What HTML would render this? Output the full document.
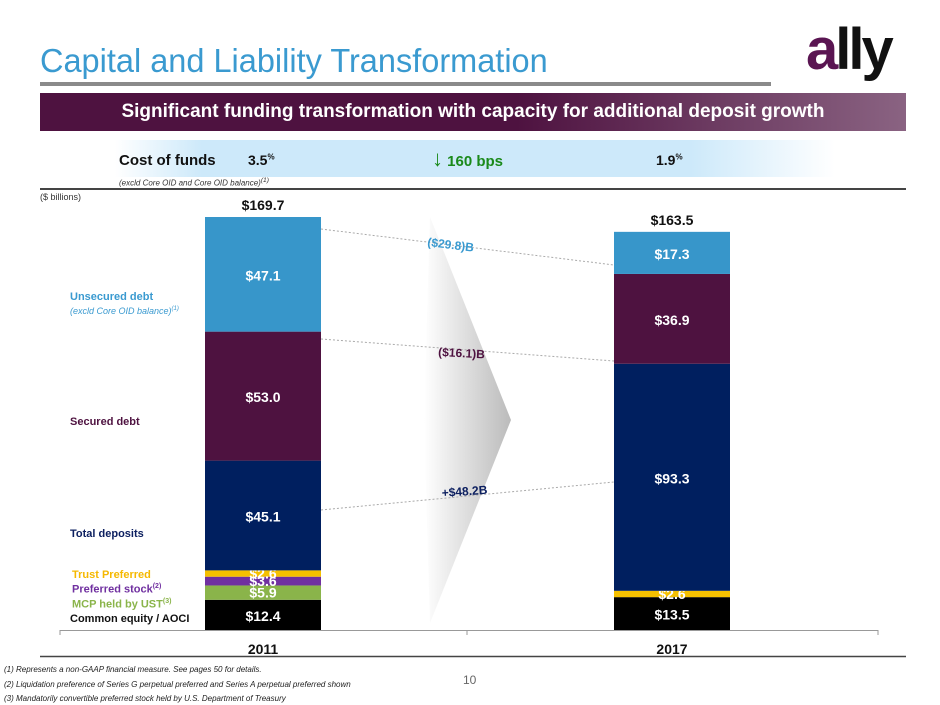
<!DOCTYPE html>
<html><head><meta charset="utf-8"><style>
body{margin:0;width:940px;height:705px;background:#fff;font-family:"Liberation Sans",sans-serif;overflow:hidden;position:relative}
.a{position:absolute;white-space:nowrap}
</style></head><body>
<div class="a" style="left:40px;top:42px;font-size:33px;color:#3a9ad0;transform:scaleX(0.985);transform-origin:left">Capital and Liability Transformation</div>
<div class="a" style="left:40px;top:82px;width:731px;height:4px;background:#8a8a8a"></div>
<div class="a" style="left:806px;top:16px;font-size:58px;font-weight:bold;letter-spacing:-3px;color:#111"><span style="color:#5a1552">a</span>lly</div>
<div class="a" style="left:40px;top:93px;width:866px;height:38px;background:linear-gradient(90deg,#4e1240 0%,#4e1240 55%,#8a6382 100%);color:#fff;font-weight:bold;font-size:19px;line-height:38px;text-align:center">Significant funding transformation with capacity for additional deposit growth</div>
<div class="a" style="left:115px;top:140px;width:720px;height:37px;background:linear-gradient(90deg,#fff 0%,#cde9fa 12%,#cde9fa 80%,#fff 100%)"></div>
<div class="a" style="left:119px;top:152px;font-size:15px;font-weight:bold;color:#111">Cost of funds</div>
<div class="a" style="left:248px;top:152px;font-size:14px;font-weight:bold;color:#111">3.5<sup style="font-size:8px">%</sup></div>
<div class="a" style="left:432px;top:146px;font-size:15px;font-weight:bold;color:#1a8a1a"><span style="font-size:22px;font-weight:normal">↓</span> 160 bps</div>
<div class="a" style="left:656px;top:152px;font-size:14px;font-weight:bold;color:#111">1.9<sup style="font-size:8px">%</sup></div>
<div class="a" style="left:119px;top:177px;font-size:8px;font-style:italic;color:#333">(excld Core OID and Core OID balance)<sup>(1)</sup></div>
<div class="a" style="left:40px;top:188px;width:866px;height:2px;background:#444"></div>
<div class="a" style="left:40px;top:192px;font-size:9px;color:#333">($ billions)</div>

<div class="a" style="left:70px;top:291px;font-size:11px;font-weight:bold;color:#3a9ad0">Unsecured debt</div>
<div class="a" style="left:70px;top:306px;font-size:9px;font-style:italic;color:#3a9ad0">(excld Core OID balance)<sup style="font-size:6px">(1)</sup></div>
<div class="a" style="left:70px;top:416px;font-size:11px;font-weight:bold;color:#4e1240">Secured debt</div>
<div class="a" style="left:70px;top:528px;font-size:11px;font-weight:bold;color:#0d2060">Total deposits</div>
<div class="a" style="left:72px;top:569px;font-size:11px;font-weight:bold;color:#f5b800">Trust Preferred</div>
<div class="a" style="left:72px;top:583px;font-size:11px;font-weight:bold;color:#7030a0">Preferred stock<sup style="font-size:7px">(2)</sup></div>
<div class="a" style="left:72px;top:598px;font-size:11px;font-weight:bold;color:#8ab44a">MCP held by UST<sup style="font-size:7px">(3)</sup></div>
<div class="a" style="left:70px;top:613px;font-size:11px;font-weight:bold;color:#111">Common equity / AOCI</div>

<svg class="a" style="left:0;top:0" width="940" height="705">
<defs><linearGradient id="g" x1="0" x2="1"><stop offset="0" stop-color="#fff"/><stop offset="1" stop-color="#bbb"/></linearGradient></defs>
<polygon points="430,217 511,420 430,623 424,420" fill="url(#g)"/>
<g id="plot"></g>
</svg>

<div class="a" style="left:463px;top:673px;font-size:12px;color:#666">10</div>
<div class="a" style="left:4px;top:665px;font-size:8px;font-style:italic;color:#222">(1) Represents a non-GAAP financial measure. See pages 50 for details.</div>
<div class="a" style="left:4px;top:680px;font-size:8px;font-style:italic;color:#222">(2) Liquidation preference of Series G perpetual preferred and Series A perpetual preferred shown</div>
<div class="a" style="left:4px;top:694px;font-size:8px;font-style:italic;color:#222">(3) Mandatorily convertible preferred stock held by U.S. Department of Treasury</div>

<script>
const years = ["2011","2017"];
const segNames = ["common-equity","mcp","preferred-stock","trust-preferred","total-deposits","secured-debt","unsecured-debt"];
const vals2011 = [12.4,5.9,3.6,2.6,45.1,53.0,47.1];
const vals2017 = [13.5,0,0,2.6,93.3,36.9,17.3];
const totals = ["$169.7","$163.5"];
const colors = ["#000","#8ab44a","#7030a0","#f5c000","#001f5f","#4e1240","#3796ca"];
const series=[vals2011,vals2017];
const base=630, scale=413/169.7;
const y=v=>base-v*scale;
const xs=[205,614], bw=116;
const ns="http://www.w3.org/2000/svg";
const g=document.getElementById('plot');
function mk(t,a){const e=document.createElementNS(ns,t);for(const k in a)e.setAttribute(k,a[k]);g.appendChild(e);return e;}
[[321,229,614,265],[321,339,614,361],[321,510,614,482]].forEach((l,i)=>{const e=mk('line',{x1:l[0],y1:l[1],x2:l[2],y2:l[3],stroke:'#aaa','stroke-dasharray':'2,2'});

});
series.forEach((s,bi)=>{let c=0;s.forEach((v,si)=>{if(v<=0)return;
const r=mk('rect',{x:xs[bi],y:y(c+v),width:bw,height:v*scale,fill:colors[si]});


const big=v>8;let ty=y(c+v/2)+(big?6:5);
if(si===4||si===5)ty=y(c+v/2)+6;
const t=mk('text',{x:xs[bi]+bw/2,y:ty,'text-anchor':'middle','font-size':14,'font-weight':'bold',fill:'#fff'});
t.textContent='$'+v.toFixed(1);


c+=v;});
const tt=mk('text',{x:xs[bi]+bw/2,y:y(c)-7,'text-anchor':'middle','font-size':14,'font-weight':'bold',fill:'#111'});
tt.textContent=totals[bi];


const yl=mk('text',{x:xs[bi]+bw/2,y:654,'text-anchor':'middle','font-size':14,'font-weight':'bold',fill:'#111'});
yl.textContent=years[bi];

});
const ax=mk('line',{x1:60,y1:630.5,x2:878,y2:630.5,stroke:'#999'});


[60,467,878].forEach(x=>{const e=mk('line',{x1:x,y1:630,x2:x,y2:635,stroke:'#999'});

});
const bl=mk('line',{x1:40,y1:656.5,x2:906,y2:656.5,stroke:'#444','stroke-width':1.5});


[["($29.8)B",427,246,"#3a9ad0",7],["($16.1)B",438,356,"#4e1240",3],["+$48.2B",442,497,"#0d2060",-4]].forEach((d,i)=>{const t=mk('text',{x:d[1],y:d[2],'font-size':12,'font-weight':'bold',fill:d[3],transform:`rotate(${d[4]} ${d[1]} ${d[2]})`});
t.textContent=d[0];

});
</script>
</body></html>
